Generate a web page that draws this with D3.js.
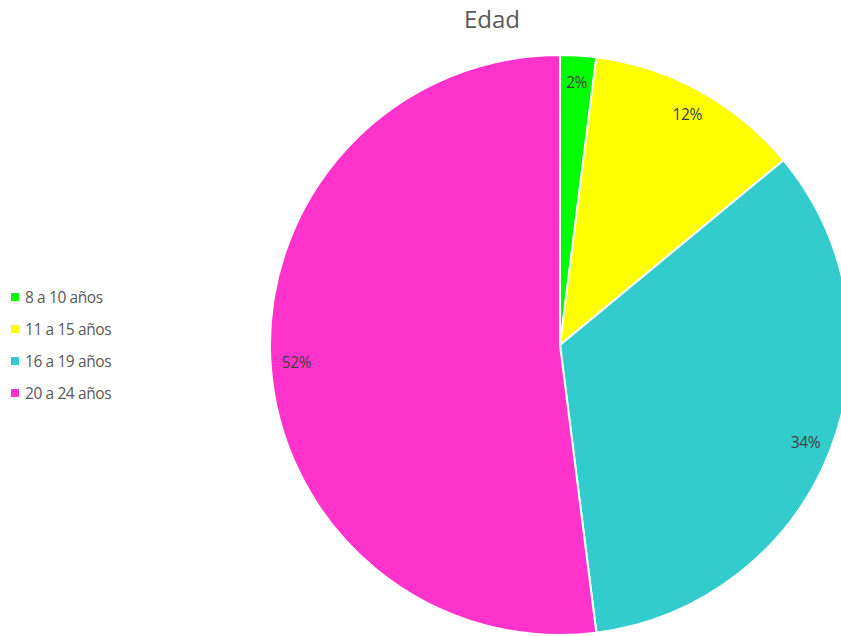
<!DOCTYPE html>
<html>
<head>
<meta charset="utf-8">
<script src="https://cdn.jsdelivr.net/npm/d3@7"></script>
<style>
  html, body { margin: 0; padding: 0; background: #fff; }
  svg { display: block; font-family: "Open Sans", Lato, sans-serif; }
</style>
</head>
<body>
<svg id="chart" width="841" height="636"></svg>
<script>
const categories = ["8 a 10 años", "11 a 15 años", "16 a 19 años", "20 a 24 años"];
const values = [2, 12, 34, 52];
const colors = ["#00FF00", "#FFFF00", "#33CCCC", "#FF33CC"];
const title = "Edad";

const svg = d3.select("#chart");
const cx = 560, cy = 345, radius = 290;

const total = d3.sum(values);
const data = categories.map((c, i) => ({ name: c, value: values[i], color: colors[i] }));

const pie = d3.pie().value(d => d.value).sort(null);
const arc = d3.arc().innerRadius(0).outerRadius(radius);
const labelArc = d3.arc().innerRadius(264).outerRadius(264);

const g = svg.append("g").attr("transform", `translate(${cx},${cy})`);
const arcs = pie(data);

g.selectAll("path.slice")
  .data(arcs)
  .join("path")
  .attr("class", "slice")
  .attr("d", arc)
  .attr("fill", d => d.data.color)
  .attr("stroke", "#fff")
  .attr("stroke-width", 2);

g.selectAll("text.pct")
  .data(arcs)
  .join("text")
  .attr("class", "pct")
  .attr("transform", d => `translate(${labelArc.centroid(d)})`)
  .attr("text-anchor", "middle")
  .attr("dominant-baseline", "central")
  .attr("font-size", 15.5)
  .attr("letter-spacing", -0.4)
  .attr("fill", "#404040")
  .text(d => Math.round(d.data.value / total * 100) + "%");

svg.append("text")
  .attr("x", 492)
  .attr("y", 18)
  .attr("text-anchor", "middle")
  .attr("dominant-baseline", "central")
  .attr("font-size", 24)
  .attr("fill", "#595959")
  .text(title);

const legend = svg.append("g").attr("transform", "translate(11,297)");
const rows = legend.selectAll("g.row")
  .data(data)
  .join("g")
  .attr("class", "row")
  .attr("transform", (d, i) => `translate(0,${i * 32})`);

rows.append("rect")
  .attr("x", 0).attr("y", -4)
  .attr("width", 8).attr("height", 8)
  .attr("fill", d => d.color);

rows.append("text")
  .attr("x", 14)
  .attr("y", 0)
  .attr("dominant-baseline", "central")
  .attr("font-size", 15.5)
  .attr("letter-spacing", -0.4)
  .attr("fill", "#595959")
  .text(d => d.name);
</script>
</body>
</html>
